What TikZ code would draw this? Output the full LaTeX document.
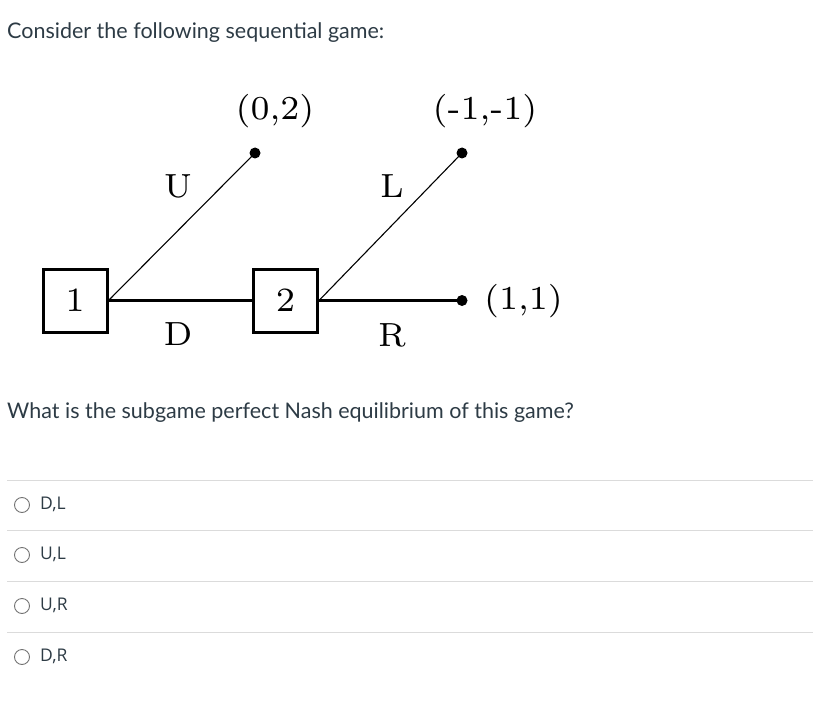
\documentclass[tikz,border=0pt]{standalone}
\usepackage{fontspec}
\setmainfont{Lato}
\newfontfamily\optfont{Open Sans}
\newfontfamily\lmfont{lmroman7-regular.otf}
\definecolor{canvas}{HTML}{2D3B45}
\begin{document}
\begin{tikzpicture}[x=1pt,y=-1pt,
  player/.style={draw,line width=3pt,minimum width=64pt,minimum height=63pt,inner sep=0pt,font=\lmfont\fontsize{34}{40}\selectfont},
  term/.style={circle,fill=black,inner sep=0pt,minimum size=11pt},
  lab/.style={font=\lmfont\fontsize{33.5}{40}\selectfont,inner sep=0pt},
  thick/.style={line width=2.4pt},
  thin/.style={line width=1.1pt},
  sep/.style={draw=black!14,line width=1pt},
  body/.style={font=\fontsize{21.5}{26}\selectfont,text=canvas,anchor=west,inner sep=0pt},
  opt/.style={font=\optfont\fontsize{17.5}{20}\selectfont,text=canvas,anchor=west,inner sep=0pt},
  radio/.style={circle,draw=black!55,line width=0.9pt,minimum size=15pt,inner sep=0pt}]
\useasboundingbox (0,0) rectangle (813,703);
\node[body] (t1) at (7,33) {Consider the following sequential game:};
\node[body] (t2) at (7,413) {What is the subgame perfect Nash equilibrium of this game?};
% tree
\node[player] (p1) at (75,300.5) {1};
\node[player] (p2) at (285.5,300.5) {2};
\node[term] (z1) at (255,153) {};
\node[term] (z2) at (462,153) {};
\node[term] (z3) at (462,300.5) {};
\draw[thin] (p1.east) -- (z1.center);
\draw[thick] (p1.east) -- (p2.west);
\draw[thin] (p2.east) -- (z2.center);
\draw[thick] (p2.east) -- (z3.center);
\node[lab] (pa1) at (275,111) {(0,2)};
\node[lab] (pa2) at (485,111) {(-1,-1)};
\node[lab] (pa3) at (523.5,301) {(1,1)};
\node[lab] (lu) at (178,186) {U};
\node[lab] (ll) at (392,186) {L};
\node[lab] (ld) at (178,334) {D};
\node[lab] (lr) at (392,335) {R};
% options
\coordinate (s1a) at (7,480); \coordinate (s1b) at (813,480);
\coordinate (s2a) at (7,530); \coordinate (s2b) at (813,530);
\coordinate (s3a) at (7,581); \coordinate (s3b) at (813,581);
\coordinate (s4a) at (7,632); \coordinate (s4b) at (813,632);
\draw[sep] (s1a) -- (s1b);
\draw[sep] (s2a) -- (s2b);
\draw[sep] (s3a) -- (s3b);
\draw[sep] (s4a) -- (s4b);
\node[radio] (r1) at (22,505) {};
\node[radio] (r2) at (22,555) {};
\node[radio] (r3) at (22,606) {};
\node[radio] (r4) at (22,657) {};
\node[opt] (o1) at (40,504) {D,L};
\node[opt] (o2) at (40,554) {U,L};
\node[opt] (o3) at (40,605) {U,R};
\node[opt] (o4) at (40,656) {D,R};
\end{tikzpicture}
\end{document}
